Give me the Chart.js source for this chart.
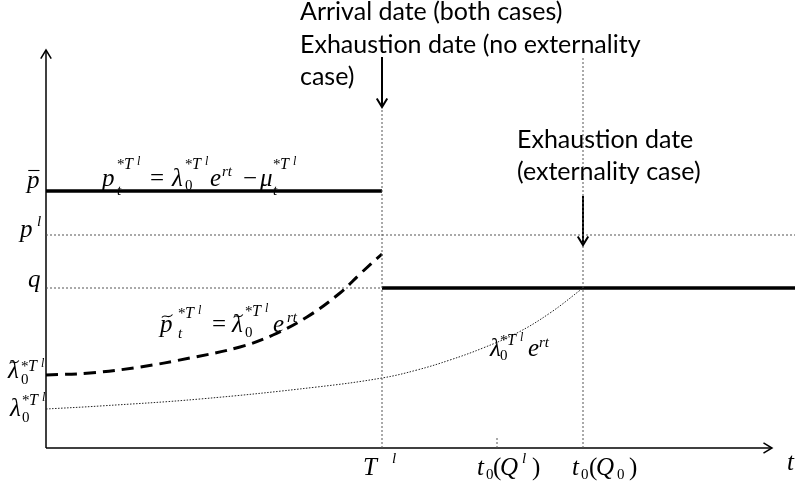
<!DOCTYPE html>
<html>
<head>
<meta charset="utf-8">
<script src="https://cdn.jsdelivr.net/npm/chart.js@4.4.1/dist/chart.umd.min.js"></script>
<style>
  html, body { margin: 0; padding: 0; background: #fff; }
</style>
</head>
<body>
<canvas id="myChart" width="795" height="486"></canvas>
<script>
// key dates on the time axis (chart units)
const tArrival = 336;   // T^l
const tQl = 451;        // t0(Q^l)
const tQ0 = 537;        // t0(Q0)
const tEnd = 749;
const tAxisEnd = 726;
const pAxisEnd = 398;

// price levels
const pBar = 257;
const pL = 213;
const qLevel = 160;

// p~ = lambda~ e^rt (dashed curve, until T^l)
const tildeT = [0, 44, 94, 144, 194, 227, 261, 294, 314, 336];
const tildeP = [73, 75, 81, 90, 101, 113, 131, 155, 174, 194];

// lambda e^rt (dotted curve, until t0(Q0))
const lamT = [0, 54, 154, 271, 336, 371, 404, 437, 471, 504, 537];
const lamP = [39, 42, 49, 61, 70, 78, 88, 100, 115, 135, 160];

// arrows pointing at the dates
const arrowArrival = [391, 341];
const arrowExhaust = [252, 203];
const vlineArrivalTop = 340;
const vlineQ0Top = 390;
const tickQlTop = 11;

const ctx = document.getElementById("myChart");

const seg = (x1, y1, x2, y2) => [{ x: x1, y: y1 }, { x: x2, y: y2 }];
const pts = (xs, ys) => xs.map((x, i) => ({ x: x, y: ys[i] }));

const dotted = { borderColor: "#555", borderWidth: 1, borderDash: [2, 2] };

const datasets = [
  { data: seg(0, pL, tEnd, pL), ...dotted },
  { data: seg(0, qLevel, tArrival, qLevel), ...dotted },
  { data: seg(tArrival, 0, tArrival, vlineArrivalTop), ...dotted },
  { data: seg(tQ0, 0, tQ0, vlineQ0Top), ...dotted },
  { data: seg(tQl, 0, tQl, tickQlTop), ...dotted },
  { data: pts(lamT, lamP), borderColor: "#222", borderWidth: 1, borderDash: [1.5, 1.5], tension: 0.4 },
  { data: pts(tildeT, tildeP), borderColor: "#000", borderWidth: 3, borderDash: [12, 7], tension: 0.4 },
  { data: seg(0, pBar, tArrival, pBar), borderColor: "#000", borderWidth: 3.5 },
  { data: seg(tArrival, qLevel, tEnd, qLevel), borderColor: "#000", borderWidth: 3.5 },
  { data: seg(0, 0, tAxisEnd, 0), borderColor: "#000", borderWidth: 1.5, arrow: 10 },
  { data: seg(0, 0, 0, pAxisEnd), borderColor: "#000", borderWidth: 1.5, arrow: 10 },
  { data: seg(tArrival, arrowArrival[0], tArrival, arrowArrival[1]), borderColor: "#000", borderWidth: 2, arrow: 10 },
  { data: seg(tQ0, arrowExhaust[0], tQ0, arrowExhaust[1]), borderColor: "#000", borderWidth: 2, arrow: 10 },
];

// draw an arrow head at the last point of datasets flagged with "arrow"
const arrowHeads = {
  id: "arrowHeads",
  afterDatasetsDraw(chart) {
    const c = chart.ctx;
    chart.data.datasets.forEach((ds, i) => {
      if (!ds.arrow) return;
      const el = chart.getDatasetMeta(i).data;
      const a = el[el.length - 2], b = el[el.length - 1];
      const ang = Math.atan2(b.y - a.y, b.x - a.x);
      const L = ds.arrow;
      c.save();
      c.strokeStyle = ds.borderColor;
      c.lineWidth = ds.borderWidth;
      c.beginPath();
      c.moveTo(b.x - L * Math.cos(ang - 0.55), b.y - L * Math.sin(ang - 0.55));
      c.lineTo(b.x, b.y);
      c.lineTo(b.x - L * Math.cos(ang + 0.55), b.y - L * Math.sin(ang + 0.55));
      c.stroke();
      c.restore();
    });
  },
};

// maths labels: each run is placed at its own x offset from the label origin
const SERIF = '"Liberation Serif", "DejaVu Serif", serif';
function drawRich(c, x0, y0, runs) {
  runs.forEach((r) => {
    c.font = (r.it ? "italic " : "") + r.sz + "px " + SERIF;
    const x = x0 + r.x, y = y0 + (r.dy || 0);
    c.fillText(r.t, x, y);
    if (r.acc) {
      const w = c.measureText(r.t).width;
      const ay = y - r.sz * 0.62;
      c.save();
      c.lineWidth = 1.1;
      c.beginPath();
      if (r.acc === "~") {
        const ax = x + w * 0.15, aw = w * 0.85;
        c.moveTo(ax, ay + 1);
        c.bezierCurveTo(ax + aw * 0.3, ay - 3.5, ax + aw * 0.6, ay + 3.5, ax + aw, ay - 2);
      } else {
        c.moveTo(x + w * 0.1, ay - 2);
        c.lineTo(x + w * 1.0, ay - 2);
      }
      c.stroke();
      c.restore();
    }
  });
}
const B = (t, x, it, acc) => ({ t: t, x: x, sz: 25, dy: 0, it: it, acc: acc });
// sub/superscript block "_{sub}^{*T^l}"
const starTl = (sub, x, subDy, supDy) => [
  { t: sub, x: x, sz: 15, dy: subDy, it: sub !== "0" },
  { t: "*", x: x, sz: 15, dy: supDy },
  { t: "T", x: x + 7, sz: 16, dy: supDy, it: true },
  { t: "l", x: x + 20, sz: 12, dy: supDy - 4, it: true },
];

const labels = {
  id: "labels",
  afterDraw(chart) {
    const c = chart.ctx;
    c.save();
    c.fillStyle = "#000";
    c.strokeStyle = "#000";
    c.textBaseline = "alphabetic";

    // left axis values
    drawRich(c, 27, 188, [B("p", 0, true, "-")]);
    drawRich(c, 20, 237, [B("p", 0, true), { t: "l", x: 17, sz: 15, dy: -11, it: true }]);
    drawRich(c, 28, 287, [B("q", 0, true)]);
    drawRich(c, 8, 378, [B("\u03bb", 0, true, "~"), ...starTl("0", 13, 6, -7)]);
    drawRich(c, 10, 416, [B("\u03bb", 0, true), ...starTl("0", 12, 6, -11)]);

    // curve formulas
    drawRich(c, 102, 186, [
      B("p", 0, true), ...starTl("t", 15, 9, -17),
      B("=", 48), B("\u03bb", 70, true), ...starTl("0", 83, 4, -17),
      B("e", 108, true), { t: "rt", x: 120, sz: 15, dy: -10, it: true },
      B("\u2212", 141), B("\u03bc", 158, true), ...starTl("t", 171, 9, -17),
    ]);
    drawRich(c, 160, 332, [
      B("p", 0, true, "~"), ...starTl("t", 18, 6, -14),
      B("=", 52), B("\u03bb", 72, true, "~"), ...starTl("0", 85, 5, -16),
      B("e", 113, true), { t: "rt", x: 127, sz: 15, dy: -10, it: true },
    ]);
    drawRich(c, 490, 356, [
      B("\u03bb", 0, true), ...starTl("0", 10, 4, -11),
      B("e", 38, true), { t: "rt", x: 49, sz: 15, dy: -9, it: true },
    ]);

    // time axis values
    drawRich(c, 363, 475, [B("T", 0, true), { t: "l", x: 29, sz: 15, dy: -12, it: true }]);
    drawRich(c, 477, 475, [
      B("t", 0, true), { t: "0", x: 9, sz: 15, dy: 4 }, B("(", 16), B("Q", 23, true),
      { t: "l", x: 45, sz: 15, dy: -12, it: true }, B(")", 55),
    ]);
    drawRich(c, 572, 475, [
      B("t", 0, true), { t: "0", x: 9, sz: 15, dy: 4 }, B("(", 17), B("Q", 24, true),
      { t: "0", x: 45, sz: 15, dy: 4 }, B(")", 57),
    ]);
    drawRich(c, 787, 470, [B("t", 0, true)]);

    c.font = '25px Lato, "Open Sans", sans-serif';
    c.fillText("Arrival date (both cases)", 300, 20);
    c.fillText("Exhaustion date (no externality", 300, 53);
    c.fillText("case)", 300, 85);
    c.fillText("Exhaustion date", 517, 148);
    c.fillText("(externality case)", 517, 180);
    c.restore();
  },
};

new Chart(ctx, {
  type: "scatter",
  data: { datasets: datasets.map((d) => ({ showLine: true, pointRadius: 0, fill: false, ...d })) },
  options: {
    responsive: false,
    animation: false,
    clip: false,
    layout: { padding: { left: 46, right: 0, top: 0, bottom: 38 } },
    plugins: { legend: { display: false }, tooltip: { enabled: false } },
    scales: {
      x: { type: "linear", display: false, min: 0, max: tEnd },
      y: { type: "linear", display: false, min: 0, max: 448 },
    },
  },
  plugins: [arrowHeads, labels],
});
</script>
</body>
</html>
